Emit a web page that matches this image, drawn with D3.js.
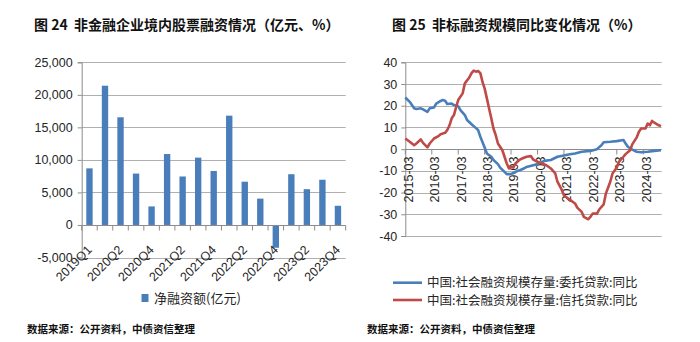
<!DOCTYPE html>
<html><head><meta charset="utf-8">
<script src="https://cdn.jsdelivr.net/npm/d3@7"></script>
<style>body{margin:0;background:#fff} svg{display:block}</style>
</head><body><svg id="c" width="700" height="342"></svg>
<script>
// ---------- data ----------
const quarters = ["2019Q1","2020Q1","2020Q2","2020Q3","2020Q4","2021Q1","2021Q2","2021Q3","2021Q4","2022Q1","2022Q2","2022Q3","2022Q4","2023Q1","2023Q2","2023Q3","2023Q4"];
const netFinancing = [8700,21400,16550,7900,2850,10900,7450,10350,8300,16800,6650,4050,-3500,7800,5500,6950,2950];
const shownQuarterLabels = ["2019Q1","2020Q2","2020Q4","2021Q2","2021Q4","2022Q2","2022Q4","2023Q2","2023Q4"];
const leftYTicks = [-5000,0,5000,10000,15000,20000,25000];

const entrustLoan = [["2015-03",23.8],["2015-05",21.8],["2015-07",18.8],["2015-08",18.5],["2015-10",18.8],["2015-11",18.3],["2016-01",17.2],["2016-02",18.8],["2016-04",19.2],["2016-05",21],["2016-07",22.2],["2016-08",22.6],["2016-09",22.3],["2016-10",20.8],["2016-12",21],["2017-01",20.3],["2017-03",19.8],["2017-04",18],["2017-06",15.7],["2017-07",13.4],["2017-09",11.5],["2017-10",10.6],["2017-12",8.8],["2018-01",5.7],["2018-03",0.8],["2018-04",-2],["2018-06",-3.5],["2018-07",-5],["2018-09",-6.9],["2018-10",-8.5],["2018-12",-10.5],["2019-01",-11.5],["2019-03",-11.5],["2019-04",-11],["2019-06",-10],["2019-07",-9.7],["2019-09",-8.8],["2019-10",-8.2],["2020-01",-7.4],["2020-03",-6.9],["2020-06",-5.4],["2020-09",-5],["2020-12",-3.5],["2021-03",-2.9],["2021-05",-2.5],["2021-08",-2],["2021-11",-1.2],["2022-03",-0.8],["2022-06",0],["2022-08",1.8],["2022-09",3.2],["2022-12",3.4],["2023-03",3.7],["2023-06",4.2],["2023-07",2.6],["2023-08",1.1],["2023-10",-0.2],["2023-12",-1.2],["2024-02",-1.4],["2024-05",-1.2],["2024-08",-0.8],["2024-11",-0.5]];
const trustLoan = [["2015-03",4.9],["2015-05",3.4],["2015-07",1.8],["2015-08",2.6],["2015-10",4.5],["2015-11",2.9],["2016-01",0.8],["2016-02",2.6],["2016-04",4.9],["2016-06",6],["2016-07",6.9],["2016-09",7.5],["2016-10",8.8],["2016-11",11],["2016-12",14.2],["2017-01",15.7],["2017-02",19.5],["2017-03",22.6],["2017-05",25.7],["2017-06",30.3],["2017-08",33],["2017-09",35],["2017-10",36.2],["2017-11",35.7],["2017-12",36],["2018-01",35],["2018-02",30.8],["2018-03",28],["2018-04",23.4],["2018-05",18.8],["2018-06",14.2],["2018-07",9.5],["2018-08",6.5],["2018-09",2.6],["2018-11",-0.5],["2018-12",-3.5],["2019-01",-6.6],["2019-02",-8.9],["2019-03",-8.2],["2019-04",-8.5],["2019-05",-6.6],["2019-07",-4.8],["2019-08",-4.3],["2019-10",-3.5],["2019-12",-3.2],["2020-01",-4.8],["2020-03",-5.8],["2020-05",-6.6],["2020-07",-7.4],["2020-09",-8.9],["2020-11",-11.2],["2020-12",-15],["2021-02",-18.9],["2021-03",-21.2],["2021-05",-22.8],["2021-06",-23.5],["2021-08",-25],["2021-09",-26.9],["2021-11",-28.9],["2021-12",-31.2],["2022-02",-32.3],["2022-03",-31.2],["2022-04",-29.7],["2022-06",-29.7],["2022-07",-27.8],["2022-09",-25.4],["2022-10",-20.5],["2022-12",-15],["2023-01",-11.2],["2023-03",-8.5],["2023-04",-5.8],["2023-06",-3.5],["2023-07",-2.3],["2023-09",-0.5],["2023-10",2.2],["2023-12",5.4],["2024-01",8],["2024-02",9.5],["2024-04",9.5],["2024-05",11.8],["2024-06",11],["2024-07",13],["2024-08",12.2],["2024-10",11],["2024-11",10.6]];
const rightYTicks = [-40,-30,-20,-10,0,10,20,30,40];
const rightXTicks = ["2015-03","2016-03","2017-03","2018-03","2019-03","2020-03","2021-03","2022-03","2023-03","2024-03"];
const rightDomain = ["2015-03","2024-11"];

const titleLeft = "图\u00a024\u00a0\u00a0非金融企业境内股票融资情况（亿元、%）";
const titleRight = "图\u00a025\u00a0\u00a0非标融资规模同比变化情况（%）";
const legendLeft = "净融资额(亿元)";
const legendRight = ["中国:社会融资规模存量:委托贷款:同比","中国:社会融资规模存量:信托贷款:同比"];
const sourceText = "数据来源：公开资料，中债资信整理";

// ---------- styles ----------
const BLUE = "#4a7ebb", RED = "#be4b48", GRID = "#b0b0b0", AXIS = "#8c8c8c", TXT = "#262626";
const FONT = "'Liberation Sans','Noto Sans CJK SC',sans-serif";
const CJK = "'Noto Sans CJK SC',sans-serif";

const svg = d3.select("#c");
const parse = d3.timeParse("%Y-%m");
const fmt = v => d3.format(",")(v).replace("\u2212","-");

// titles & sources
svg.append("text").attr("x",34).attr("y",30).text(titleLeft)
  .attr("font-family",CJK).attr("font-weight","bold").attr("font-size",14).attr("fill","#111");
svg.append("text").attr("x",392).attr("y",30).text(titleRight)
  .attr("font-family",CJK).attr("font-weight","bold").attr("font-size",14).attr("fill","#111");
[27,367].forEach(x => svg.append("text").attr("x",x).attr("y",333).text(sourceText)
  .attr("font-family",CJK).attr("font-weight","bold").attr("font-size",10.5).attr("fill","#111"));

// ---------- left chart ----------
const xL = d3.scaleBand().domain(quarters).range([81.7,345.7]).padding(0);
const yL = d3.scaleLinear().domain([-5000,25000]).range([257.5,62.3]);
const gL = svg.append("g");
gL.append("g").selectAll("line").data(leftYTicks).join("line")
  .attr("x1",81.7).attr("x2",345.7).attr("y1",d=>Math.round(yL(d))+0.5).attr("y2",d=>Math.round(yL(d))+0.5)
  .attr("stroke",GRID);
const axL = gL.append("g").attr("transform","translate(81.7,0)")
  .call(d3.axisLeft(yL).tickValues(leftYTicks).tickFormat(fmt).tickSize(4).tickPadding(5));
axL.select(".domain").attr("stroke",AXIS);
axL.selectAll(".tick line").attr("stroke",AXIS);
axL.selectAll("text").attr("font-family",FONT).attr("font-size",12.5).attr("fill",TXT);

const bw = xL.step()*0.41;
gL.append("g").selectAll("rect").data(quarters).join("rect")
  .attr("x",(d)=>xL(d)+xL.step()/2-bw/2).attr("width",bw)
  .attr("y",(d,i)=>yL(Math.max(0,netFinancing[i])))
  .attr("height",(d,i)=>Math.abs(yL(netFinancing[i])-yL(0)))
  .attr("fill",BLUE);
// zero axis + category ticks
const y0 = Math.round(yL(0))+0.5;
gL.append("line").attr("x1",81.7).attr("x2",345.7).attr("y1",y0).attr("y2",y0).attr("stroke",AXIS);
gL.append("g").selectAll("line").data(d3.range(quarters.length+1)).join("line")
  .attr("x1",i=>81.7+i*xL.step()).attr("x2",i=>81.7+i*xL.step()).attr("y1",y0).attr("y2",y0+5).attr("stroke",AXIS);
gL.append("g").selectAll("text").data(shownQuarterLabels).join("text")
  .attr("transform",d=>`translate(${xL(d)+xL.step()/2},${y0+22}) rotate(-45)`)
  .attr("text-anchor","end").attr("dy","0.35em").text(d=>d)
  .attr("font-family",FONT).attr("font-size",12.5).attr("fill",TXT);
// legend
gL.append("rect").attr("x",141.5).attr("y",294).attr("width",7).attr("height",8).attr("fill",BLUE);
gL.append("text").attr("x",154).attr("y",303).text(legendLeft)
  .attr("font-family",CJK).attr("font-size",13).attr("fill",TXT);

// ---------- right chart ----------
const xR = d3.scaleTime().domain(rightDomain.map(parse)).range([405.3,661]);
const yR = d3.scaleLinear().domain([-40,40]).range([236,62.3]);
const gR = svg.append("g");
gR.append("g").selectAll("line").data(rightYTicks).join("line")
  .attr("x1",405.3).attr("x2",661.7).attr("y1",d=>Math.round(yR(d))+0.5).attr("y2",d=>Math.round(yR(d))+0.5)
  .attr("stroke",GRID);
const axR = gR.append("g").attr("transform","translate(405.3,0)")
  .call(d3.axisLeft(yR).tickValues(rightYTicks).tickFormat(fmt).tickSize(4).tickPadding(4));
axR.select(".domain").attr("stroke",AXIS);
axR.selectAll(".tick line").attr("stroke",AXIS);
axR.selectAll("text").attr("font-family",FONT).attr("font-size",12.5).attr("fill",TXT);
const yr0 = Math.round(yR(0))+0.5;
gR.append("line").attr("x1",405.3).attr("x2",661.7).attr("y1",yr0).attr("y2",yr0).attr("stroke",AXIS);
gR.append("g").selectAll("line").data(rightXTicks).join("line")
  .attr("x1",d=>xR(parse(d))).attr("x2",d=>xR(parse(d))).attr("y1",yr0).attr("y2",yr0+5).attr("stroke",AXIS);
gR.append("g").selectAll("text").data(rightXTicks).join("text")
  .attr("transform",d=>`translate(${xR(parse(d))+3},${yr0+7}) rotate(-90)`)
  .attr("text-anchor","end").attr("dy","0.35em").text(d=>d)
  .attr("font-family",FONT).attr("font-size",12.5).attr("fill",TXT);

const line = d3.line().x(d=>xR(parse(d[0]))).y(d=>yR(d[1])).curve(d3.curveLinear);
gR.append("path").datum(entrustLoan).attr("d",line).attr("fill","none").attr("stroke",BLUE).attr("stroke-width",2.6).attr("stroke-linejoin","round");
gR.append("path").datum(trustLoan).attr("d",line).attr("fill","none").attr("stroke",RED).attr("stroke-width",2.6).attr("stroke-linejoin","round");

// legend
[[BLUE,282.7],[RED,300]].forEach(([c,y],i)=>{
  gR.append("line").attr("x1",393).attr("x2",422).attr("y1",y).attr("y2",y).attr("stroke",c).attr("stroke-width",2.6);
  gR.append("text").attr("x",427).attr("y",y+4.5).text(legendRight[i])
    .attr("font-family",CJK).attr("font-size",12.5).attr("fill",TXT);
});
</script></body></html>
